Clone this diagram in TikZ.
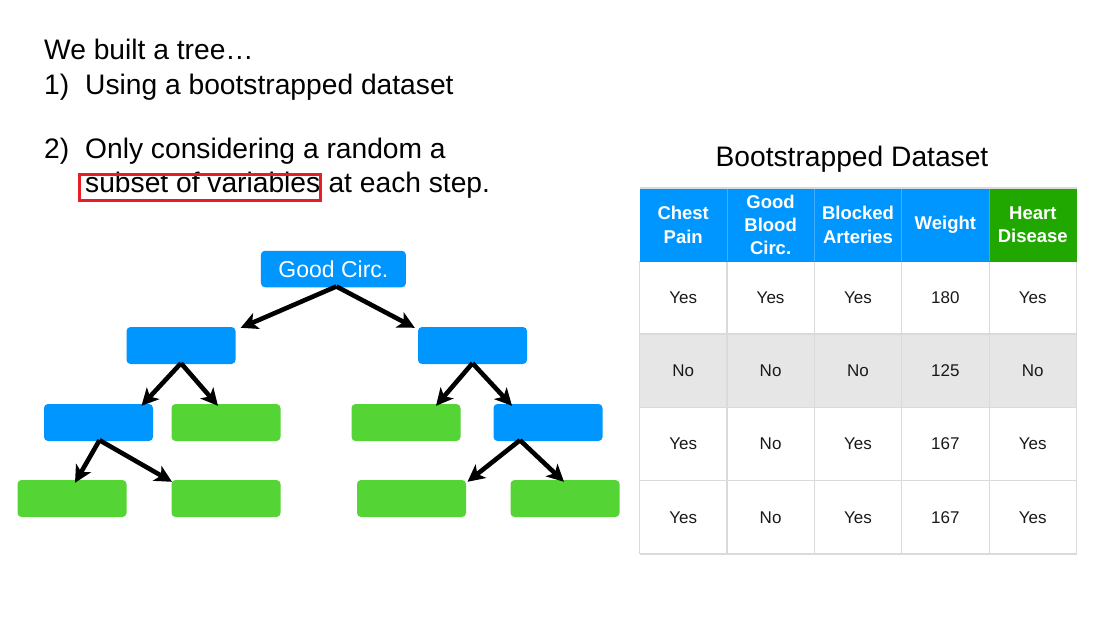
\documentclass[tikz,border=0pt]{standalone}
\usepackage{fontspec}
\setmainfont{Liberation Sans}
\usetikzlibrary{arrows.meta,calc}
\definecolor{tblue}{RGB}{0,150,255}
\definecolor{tgreen}{RGB}{85,212,53}
\definecolor{hgreen}{RGB}{32,168,0}
\definecolor{redbox}{RGB}{230,30,40}
\definecolor{gridc}{RGB}{218,218,218}
\definecolor{rowgray}{RGB}{230,230,230}
\definecolor{txt}{RGB}{25,25,25}
\tikzset{
  bigtext/.style={font=\fontsize{28.2}{34}\selectfont, text=black, inner sep=0pt, anchor=base west},
  box/.style={rounded corners=4pt, minimum width=109pt, minimum height=37pt, inner sep=0pt},
  bluebox/.style={box, fill=tblue},
  greenbox/.style={box, fill=tgreen},
  arr/.style={line width=4.6pt, -{Stealth[length=17pt,width=17pt,inset=4.5pt]}},
  hdr/.style={font=\fontsize{18.5}{23.3}\selectfont\bfseries, text=white, align=center, inner sep=0pt},
  cell/.style={font=\fontsize{17}{20}\selectfont, text=txt, inner sep=0pt},
}
\begin{document}
\begin{tikzpicture}[x=1pt,y=-1pt]
\useasboundingbox (0,0) rectangle (1120,630);
\fill[white] (0,0) rectangle (1120,630);

% left text
\node[bigtext] (l0) at (44,59) {We built a tree…};
\node[bigtext] (n1) at (44,94) {1)};
\node[bigtext] (t1) at (85,94) {Using a bootstrapped dataset};
\node[bigtext] (n2) at (44,158) {2)};
\node[bigtext] (t2) at (85,158) {Only considering a random a};
\node[bigtext] (sv) at (85,192) {subset of variables};
\node[bigtext] (t3) at (sv.base east) {\ at each step.};
\draw[redbox, line width=2.6pt] (79.5,174.5) rectangle (320.5,200.5);

% tree
\node[bluebox, minimum width=145pt, minimum height=36.5pt, text=white, font=\fontsize{23}{26}\selectfont] (root) at (333.4,269) {Good Circ.};
\node[bluebox] (a) at (181,345.5) {};
\node[bluebox] (b) at (472.5,345.5) {};
\node[bluebox] (c) at (98.5,422.5) {};
\node[greenbox] (d) at (226,422.5) {};
\node[greenbox] (e) at (406,422.5) {};
\node[bluebox] (f) at (548,422.5) {};
\node[greenbox] (g) at (72,498.5) {};
\node[greenbox] (h) at (226,498.5) {};
\node[greenbox] (i) at (411.5,498.5) {};
\node[greenbox] (j) at (565,498.5) {};

\draw[arr] ([xshift=3pt,yshift=1pt]root.south) -- ([xshift=5pt,yshift=-1pt]a.north east);
\draw[arr] ([xshift=3pt,yshift=1pt]root.south) -- ([xshift=-3pt,yshift=-1pt]b.north west);
\draw[arr] ([yshift=1pt]a.south) -- ([xshift=43pt,yshift=-2pt]c.north);
\draw[arr] ([yshift=1pt]a.south) -- ([xshift=-8pt,yshift=-2pt]d.north);
\draw[arr] ([yshift=1pt]b.south) -- ([xshift=30pt,yshift=-2pt]e.north);
\draw[arr] ([yshift=1pt]b.south) -- ([xshift=-36pt,yshift=-2pt]f.north);
\draw[arr] ([xshift=1pt,yshift=1pt]c.south) -- ([xshift=3pt,yshift=-3pt]g.north);
\draw[arr] ([xshift=1pt,yshift=1pt]c.south) -- ([xshift=-54pt,yshift=-2pt]h.north);
\draw[arr] ([xshift=-28pt,yshift=1pt]f.south) -- ([xshift=56pt,yshift=-2pt]i.north);
\draw[arr] ([xshift=-28pt,yshift=1pt]f.south) -- ([xshift=-1pt,yshift=-2pt]j.north);

% table
\node[font=\fontsize{28.2}{34}\selectfont, inner sep=0pt, anchor=base] (title) at (852,166) {Bootstrapped Dataset};

\def\xo{639.5}\def\cw{87.4}
\fill[rowgray] (\xo,334) rectangle (1076.5,407.5);
\foreach \k in {0,...,3}{
  \fill[tblue] ({\xo+\cw*\k},188) rectangle ({\xo+\cw*(\k+1)},261);
}
\fill[hgreen] ({\xo+\cw*4},188) rectangle ({\xo+\cw*5},261);
\foreach \k in {1,...,4}{
  \draw[white, opacity=0.25, line width=0.8pt] ({\xo+\cw*\k},188) -- ({\xo+\cw*\k},261);
}
\draw[gridc, line width=1.2pt] (\xo,188) -- ({\xo+\cw*5},188);
\foreach \k in {0,...,5}{
  \draw[gridc, line width=1.2pt] ({\xo+\cw*\k},261) -- ({\xo+\cw*\k},554);
}
\foreach \yy in {334,407.5,480.7,554}{
  \draw[gridc, line width=1.2pt] (\xo,\yy) -- ({\xo+\cw*5},\yy);
}
\draw[tblue, line width=1pt] (\xo,261) -- ({\xo+\cw*4},261);
\draw[hgreen, line width=1pt] ({\xo+\cw*4},261) -- ({\xo+\cw*5},261);

\foreach \k/\t in {0/{Chest\\Pain},1/{Good\\Blood\\Circ.},2/{Blocked\\Arteries},3/{Weight},4/{Heart\\Disease}}{
  \node[hdr] (h\k) at ({\xo+\cw*(\k+0.5)},225) {\t};
}
\foreach \r/\yy/\va/\vb/\vc/\vd/\ve in {
  1/297.5/Yes/Yes/Yes/180/Yes,
  2/371/No/No/No/125/No,
  3/444/Yes/No/Yes/167/Yes,
  4/517.5/Yes/No/Yes/167/Yes}{
  \node[cell] (r\r c1) at ({\xo+\cw*0.5},\yy) {\va};
  \node[cell] (r\r c2) at ({\xo+\cw*1.5},\yy) {\vb};
  \node[cell] (r\r c3) at ({\xo+\cw*2.5},\yy) {\vc};
  \node[cell] (r\r c4) at ({\xo+\cw*3.5},\yy) {\vd};
  \node[cell] (r\r c5) at ({\xo+\cw*4.5},\yy) {\ve};
}
\end{tikzpicture}
\end{document}
